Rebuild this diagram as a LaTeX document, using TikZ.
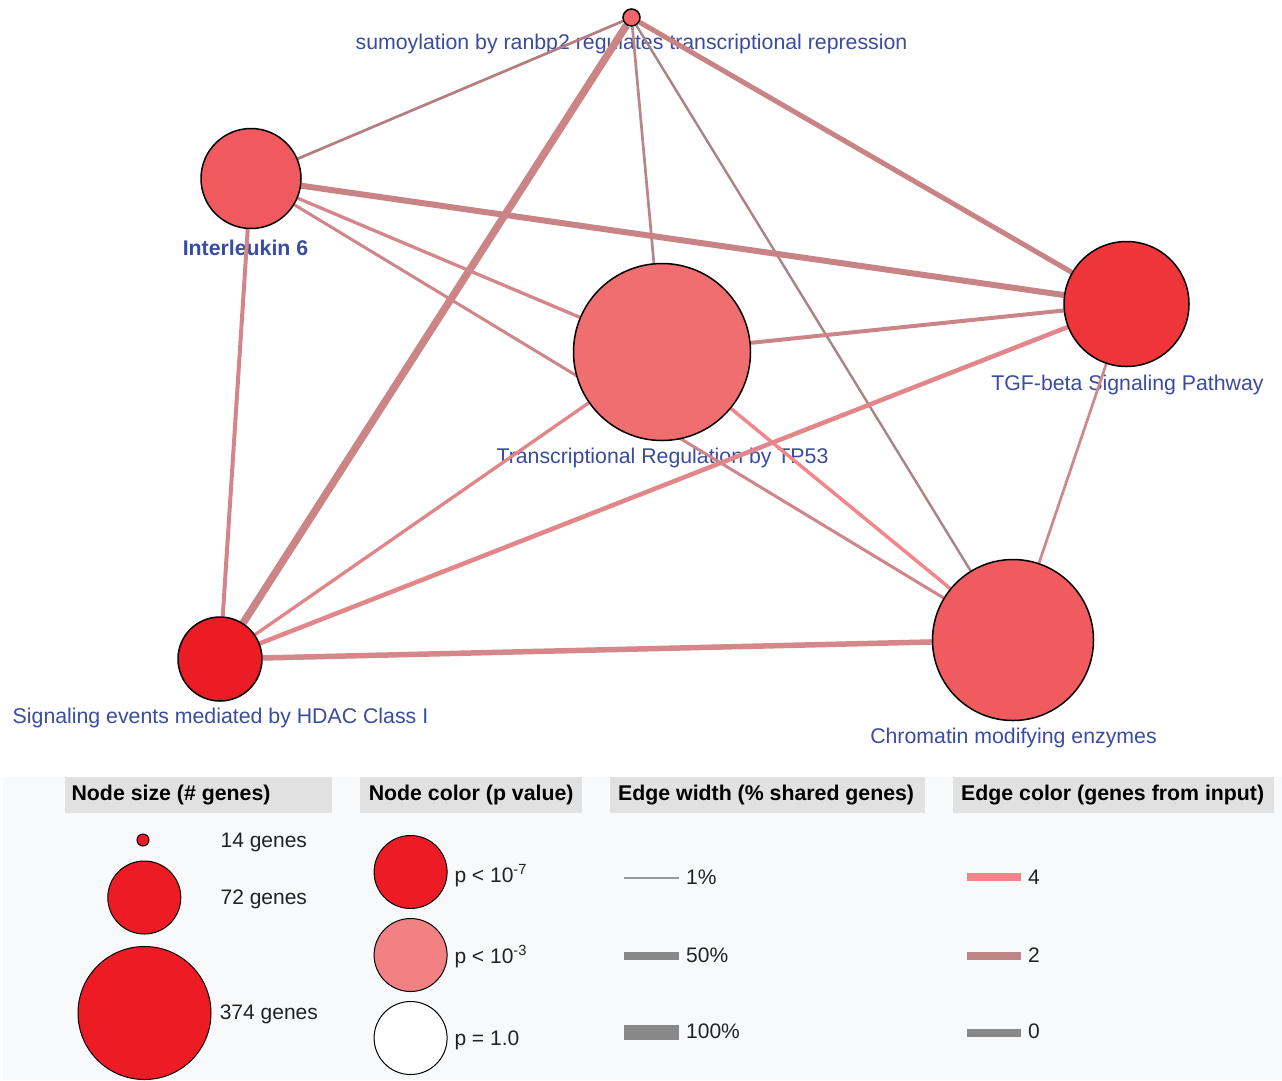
\documentclass[tikz,border=0pt]{standalone}
\usepackage{fontspec}
\setmainfont{Liberation Sans}
\pgfdeclarelayer{bg}
\pgfdeclarelayer{labels}
\pgfdeclarelayer{edges}
\pgfsetlayers{bg,labels,edges,main}
\definecolor{legbg}{HTML}{F7F9FB}
\definecolor{hdrgray}{HTML}{E1E1E1}
\definecolor{lblblue}{HTML}{3A4CA0}
\definecolor{txt}{HTML}{222222}
\definecolor{csumo}{HTML}{F0666A}
\definecolor{cil6}{HTML}{F05A5E}
\definecolor{ctp}{HTML}{F06D70}
\definecolor{ctgf}{HTML}{EE3539}
\definecolor{cchr}{HTML}{F05B5F}
\definecolor{chdac}{HTML}{EC1C24}
\definecolor{lred}{HTML}{ED1C24}
\definecolor{lpink}{HTML}{F38083}
\definecolor{eA}{HTML}{B47E80}
\definecolor{eB}{HTML}{B98587}
\definecolor{eC}{HTML}{C98385}
\definecolor{eD}{HTML}{A88486}
\definecolor{eE}{HTML}{CC8587}
\definecolor{eF}{HTML}{D4868A}
\definecolor{eG}{HTML}{C88386}
\definecolor{eH}{HTML}{CF8589}
\definecolor{eI}{HTML}{D38589}
\definecolor{eJ}{HTML}{CB8588}
\definecolor{eK}{HTML}{F3868A}
\definecolor{eL}{HTML}{E08689}
\definecolor{eM}{HTML}{CE888B}
\definecolor{eN}{HTML}{E2868A}
\definecolor{eO}{HTML}{D5878A}
\definecolor{gbar}{HTML}{888888}
\definecolor{gthin}{HTML}{999999}
\definecolor{cfour}{HTML}{F08487}
\definecolor{ctwo}{HTML}{C08486}
\tikzset{
  gnode/.style={circle, draw=black, line width=1.5pt, inner sep=0pt, minimum size=#1},
  lnode/.style={circle, draw=black, line width=1pt, inner sep=0pt, minimum size=#1},
  lbl/.style={text=lblblue, font=\fontsize{21.3}{25}\selectfont, inner sep=0pt, anchor=base},
  ltxt/.style={text=txt, font=\fontsize{21}{25}\selectfont, inner sep=0pt, anchor=base west},
  hdr/.style={text=black, font=\fontsize{21.3}{25}\selectfont\bfseries, inner sep=0pt, anchor=base west},
  hbox/.style={fill=hdrgray, draw=none},
  ed/.style={line cap=butt},
  lbar/.style={line cap=butt}
}
\begin{document}
\begin{tikzpicture}[x=1pt,y=-1pt]
\useasboundingbox (0,0) rectangle (1282,1080);
\begin{pgfonlayer}{bg}
\fill[white] (0,0) rectangle (1282,1080);
\fill[legbg] (3,777) rectangle (1282,1080);
\end{pgfonlayer}

% graph nodes
\node[gnode=17pt, fill=csumo] (sumo) at (631.5,17.5) {};
\node[gnode=100pt, fill=cil6] (il6) at (251,178.5) {};
\node[gnode=177pt, fill=ctp] (tp53) at (662,352) {};
\node[gnode=125pt, fill=ctgf] (tgf) at (1126.5,304) {};
\node[gnode=161pt, fill=cchr] (chr) at (1013,640) {};
\node[gnode=84pt, fill=chdac] (hdac) at (220,659) {};

% labels
\begin{pgfonlayer}{labels}
\node[lbl] (sumol) at (631.5,49.5) {sumoylation by ranbp2 regulates transcriptional repression};
\node[lbl, font=\fontsize{21.3}{25}\selectfont\bfseries] (il6l) at (245.5,255) {Interleukin 6};
\node[lbl] (tp53l) at (662.5,463) {Transcriptional Regulation by TP53};
\node[lbl] (tgfl) at (1127.5,390) {TGF-beta Signaling Pathway};
\node[lbl] (chrl) at (1013.5,743) {Chromatin modifying enzymes};
\node[lbl] (hdacl) at (220.5,723) {Signaling events mediated by HDAC Class I};
\end{pgfonlayer}

% edges
\begin{pgfonlayer}{edges}
\draw[ed, line width=2.7pt, color=eA] (sumo) -- (il6);
\draw[ed, line width=2.7pt, color=eB] (sumo) -- (tp53);
\draw[ed, line width=5pt, color=eC] (sumo) -- (tgf);
\draw[ed, line width=2.4pt, color=eD] (sumo) -- (chr);
\draw[ed, line width=7.5pt, color=eE] (sumo) -- (hdac);
\draw[ed, line width=3.3pt, color=eF] (il6) -- (tp53);
\draw[ed, line width=6pt, color=eG] (il6) -- (tgf);
\draw[ed, line width=3pt, color=eH] (il6) -- (chr);
\draw[ed, line width=4pt, color=eI] (il6) -- (hdac);
\draw[ed, line width=4pt, color=eJ] (tp53) -- (tgf);
\draw[ed, line width=3.5pt, color=eK] (tp53) -- (chr);
\draw[ed, line width=3.3pt, color=eL] (tp53) -- (hdac);
\draw[ed, line width=2.7pt, color=eM] (tgf) -- (chr);
\draw[ed, line width=4.5pt, color=eN] (tgf) -- (hdac);
\draw[ed, line width=5.5pt, color=eO] (chr) -- (hdac);
\end{pgfonlayer}

% legend headers
\fill[hbox] (64.5,777.3) rectangle (331.5,812.7);
\fill[hbox] (360,777.3) rectangle (581.6,812.7);
\fill[hbox] (609.6,777.3) rectangle (924.8,812.7);
\fill[hbox] (953,777.3) rectangle (1274,812.7);
\node[hdr] (h1) at (71.4,800) {Node size (\# genes)};
\node[hdr] (h2) at (368.6,800) {Node color (p value)};
\node[hdr] (h3) at (618,800) {Edge width (\% shared genes)};
\node[hdr] (h4) at (961,800) {Edge color (genes from input)};

% node size legend
\node[lnode=12pt, fill=lred] (s14) at (143,840) {};
\node[lnode=73pt, fill=lred] (s72) at (144.3,897.5) {};
\node[lnode=133pt, fill=lred] (s374) at (144.5,1013) {};
\node[ltxt] (t14) at (220.4,847) {14 genes};
\node[ltxt] (t72) at (220.4,904) {72 genes};
\node[ltxt] (t374) at (219.6,1019.3) {374 genes};

% node colour legend
\node[lnode=73pt, fill=lred] (p7) at (410.6,872) {};
\node[lnode=73pt, fill=lpink] (p3) at (410.6,955) {};
\node[lnode=73pt, fill=white] (p1) at (410.6,1038) {};
\node[ltxt] (tp7) at (454.3,882) {p < 10\textsuperscript{-7}};
\node[ltxt] (tp3) at (454.3,963) {p < 10\textsuperscript{-3}};
\node[ltxt] (tp1) at (454.3,1045) {p = 1.0};

% edge width legend
\draw[lbar, line width=1.8pt, color=gthin] (624,877.7) -- (678.7,877.7);
\draw[lbar, line width=8pt, color=gbar] (624,955.7) -- (678.7,955.7);
\draw[lbar, line width=15.5pt, color=gbar] (624,1032.7) -- (678.7,1032.7);
\node[ltxt] (w1) at (686,884.3) {1\%};
\node[ltxt] (w50) at (686,962) {50\%};
\node[ltxt] (w100) at (686,1038.3) {100\%};

% edge colour legend
\draw[lbar, line width=8pt, color=cfour] (966.5,877.3) -- (1021,877.3);
\draw[lbar, line width=8pt, color=ctwo] (966.5,955.7) -- (1021,955.7);
\draw[lbar, line width=8pt, color=gbar] (966.5,1032.7) -- (1021,1032.7);
\node[ltxt] (c4) at (1028,884) {4};
\node[ltxt] (c2) at (1028,962) {2};
\node[ltxt] (c0) at (1028,1038.3) {0};
\end{tikzpicture}
\end{document}
